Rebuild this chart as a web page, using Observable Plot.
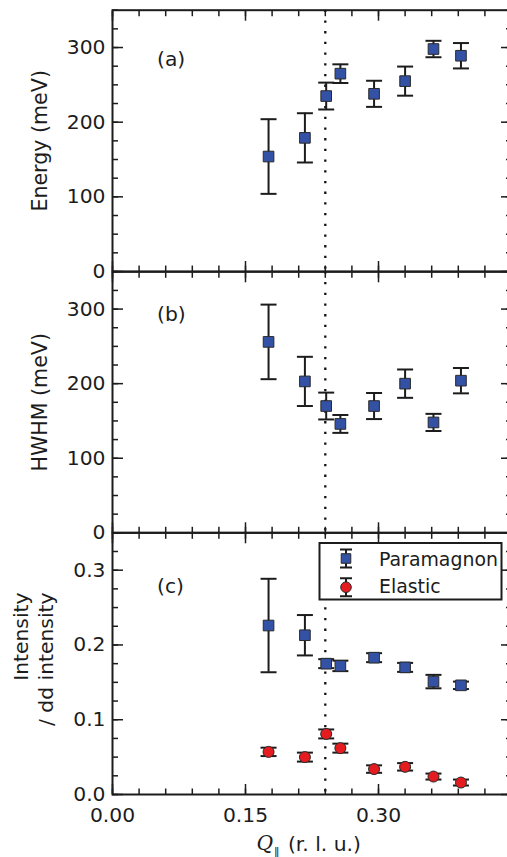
<!DOCTYPE html>
<html><head><meta charset="utf-8">
<script src="https://cdn.jsdelivr.net/npm/d3@7"></script>
<script src="https://cdn.jsdelivr.net/npm/@observablehq/plot@0.6"></script>
<style>
html,body{margin:0;padding:0;background:#fff;overflow:hidden;}
#chart{position:relative;width:507px;height:857px;overflow:hidden;}
#chart svg{position:absolute;left:0;top:0;}
</style></head><body><div id="chart"></div>
<script>
// ---- data ----
const q = [0.176, 0.217, 0.241, 0.257, 0.295, 0.330, 0.362, 0.393];
const energy = [154, 179, 235, 265, 238, 255, 298, 289];
const energyErr = [50, 33, 18, 12.5, 17.5, 19.5, 11, 17];
const hwhm = [256, 203, 170, 146, 170, 200, 148, 204];
const hwhmErr = [50, 33, 18, 12, 17.5, 19, 11.5, 17];
const paramagnon = [0.226, 0.213, 0.175, 0.172, 0.183, 0.170, 0.151, 0.146];
const paramagnonErr = [0.0625, 0.027, 0.006, 0.007, 0.006, 0.006, 0.009, 0.005];
const elastic = [0.057, 0.050, 0.081, 0.062, 0.034, 0.037, 0.024, 0.016];
const elasticErr = [0.0056, 0.006, 0.006, 0.006, 0.005, 0.005, 0.004, 0.004];
const qCritical = 0.24;
const xTickLabels = [0, 0.15, 0.30];
const xMajor = [0, 0.15, 0.30, 0.45];
const xMinor = [0, 0.03, 0.06, 0.09, 0.12, 0.15, 0.18, 0.21, 0.24, 0.27, 0.30, 0.33, 0.36, 0.39, 0.42, 0.45];
const meVMajor = [0, 100, 200, 300];
const meVMinor = [0, 25, 50, 75, 100, 125, 150, 175, 200, 225, 250, 275, 300, 325, 350];
const intMajor = [0, 0.1, 0.2, 0.3];
const intMinor = [0, 0.025, 0.05, 0.075, 0.1, 0.125, 0.15, 0.175, 0.2, 0.225, 0.25, 0.275, 0.3, 0.325, 0.35];
const panelLetters = ["(a)", "(b)", "(c)"];
const yLabels = ["Energy (meV)", "HWHM (meV)", "Intensity\n/ dd intensity"];
const legendLabels = ["Paramagnon", "Elastic"];
const xLabelParts = ["Q", "\u2225", "(r. l. u.)"];

const INK = "#1c1c1c";
const BLUE = "#3352a6";
const RED = "#e41b1f";
const H = 857, W = 507;

function capSymbol(hw) { return {draw(ctx) { ctx.moveTo(-hw, 0); ctx.lineTo(hw, 0); }}; }
function legendBar(hh, hw) {
  return {draw(ctx) {
    ctx.moveTo(0, -hh); ctx.lineTo(0, hh);
    ctx.moveTo(-hw, -hh); ctx.lineTo(hw, -hh);
    ctx.moveTo(-hw, hh); ctx.lineTo(hw, hh);
  }};
}

function makePanel({top, bottom, yDomain, yMajor, yMinor, yFormat, series, letter, letterDy, ylabelMark, extra = []}) {
  const tk = {stroke: INK, strokeWidth: 1.5, fill: "none", label: null};
  const marks = [
    Plot.ruleX([qCritical], {stroke: "#111", strokeWidth: 2.3, strokeDasharray: "2.3,8.4"})
  ];
  for (const s of series) {
    const rows = q.map((x, i) => ({q: x, v: s.values[i], e: s.errors[i]}));
    marks.push(
      Plot.ruleX(rows, {x: "q", y1: d => d.v - d.e, y2: d => d.v + d.e, stroke: INK, strokeWidth: 2}),
      Plot.dot(rows, {x: "q", y: d => d.v + d.e, symbol: capSymbol(8), fill: "none", stroke: INK, strokeWidth: 2}),
      Plot.dot(rows, {x: "q", y: d => d.v - d.e, symbol: capSymbol(8), fill: "none", stroke: INK, strokeWidth: 2}),
      Plot.dot(rows, {x: "q", y: "v", symbol: s.symbol, r: s.r, fill: s.color, stroke: "#2a2a2a", strokeWidth: 1})
    );
  }
  marks.push(
    Plot.axisX(xMinor, {...tk, anchor: "bottom", tickSize: -5.5}),
    Plot.axisX(xMajor, {...tk, anchor: "bottom", tickSize: -10}),
    Plot.axisX(xMinor, {...tk, anchor: "top", tickSize: -5.5}),
    Plot.axisX(xMajor, {...tk, anchor: "top", tickSize: -10}),
    Plot.axisY(yMinor, {...tk, anchor: "left", tickSize: -6}),
    Plot.axisY(yMajor, {...tk, anchor: "left", tickSize: -11}),
    Plot.axisY(yMinor, {...tk, anchor: "right", tickSize: -6}),
    Plot.axisY(yMajor, {...tk, anchor: "right", tickSize: -11}),
    Plot.axisY(yMajor, {anchor: "left", tickSize: 0, tickPadding: 7, tickFormat: yFormat, label: null, fill: INK, fontSize: 20.3}),
    Plot.frame({stroke: INK, strokeWidth: 2}),
    Plot.text([letter], {frameAnchor: "top-left", dx: 44.5, dy: letterDy, lineAnchor: "bottom", fontSize: 20.3, fill: INK}),
    ylabelMark,
    ...extra
  );
  return Plot.plot({
    width: W, height: H,
    marginLeft: 112, marginRight: -4, marginTop: top, marginBottom: H - bottom,
    x: {domain: [0, 0.45]},
    y: {domain: yDomain},
    style: {background: "transparent", fontFamily: "'DejaVu Sans', sans-serif", fontSize: "20px", color: INK},
    marks
  });
}

const chart = document.getElementById("chart");

chart.append(makePanel({
  top: 9.7, bottom: 271, yDomain: [0, 350], yMajor: meVMajor, yMinor: meVMinor, yFormat: d3.format("d"),
  series: [{values: energy, errors: energyErr, symbol: "square", r: 6, color: BLUE}],
  letter: panelLetters[0], letterDy: 55.7,
  ylabelMark: Plot.text([yLabels[0]], {frameAnchor: "left", rotate: -90, dx: -65.3, textAnchor: "middle", lineAnchor: "bottom", fontSize: 20.6, fill: INK})
}));

chart.append(makePanel({
  top: 271.3, bottom: 532.3, yDomain: [0, 350], yMajor: meVMajor, yMinor: meVMinor, yFormat: d3.format("d"),
  series: [{values: hwhm, errors: hwhmErr, symbol: "square", r: 6, color: BLUE}],
  letter: panelLetters[1], letterDy: 49.1,
  ylabelMark: Plot.text([yLabels[1]], {frameAnchor: "left", rotate: -90, dx: -65.3, textAnchor: "middle", lineAnchor: "bottom", fontSize: 20.6, fill: INK})
}));

chart.append(makePanel({
  top: 532.3, bottom: 794, yDomain: [0, 0.35], yMajor: intMajor, yMinor: intMinor, yFormat: d3.format(".1f"),
  series: [
    {values: paramagnon, errors: paramagnonErr, symbol: "square", r: 6, color: BLUE},
    {values: elastic, errors: elasticErr, symbol: "circle", r: 5.5, color: RED}
  ],
  letter: panelLetters[2], letterDy: 60.1,
  ylabelMark: Plot.text([yLabels[2]], {frameAnchor: "top-left", rotate: -90, dx: -59.7, dy: 59.7, textAnchor: "end", lineAnchor: "bottom", lineHeight: 1.2, fontSize: 20.3, fill: INK}),
  extra: [
    Plot.axisX(xTickLabels, {anchor: "bottom", tickSize: 0, tickPadding: 13, tickFormat: d3.format(".2f"), label: null, fill: INK, fontSize: 20.3}),
    Plot.text([xLabelParts[0]], {frameAnchor: "bottom-left", dx: 144, dy: 55.5, lineAnchor: "bottom", fontFamily: "'DejaVu Serif', serif", fontStyle: "italic", fontSize: 20.3, fill: INK}),
    Plot.text([xLabelParts[1]], {frameAnchor: "bottom-left", dx: 161, dy: 61, lineAnchor: "bottom", fontSize: 12, fill: INK}),
    Plot.text([xLabelParts[2]], {frameAnchor: "bottom-left", dx: 175.4, dy: 56.2, lineAnchor: "bottom", fontSize: 20.3, fill: INK}),
    // legend
    Plot.frame({insetLeft: 207, insetTop: 10.2, insetRight: 10, insetBottom: 195, fill: "white", stroke: INK, strokeWidth: 2}),
    Plot.dot([0], {x: null, y: null, frameAnchor: "top-left", dx: 233.5, dy: 25.7, symbol: legendBar(9, 6), fill: "none", stroke: INK, strokeWidth: 2}),
    Plot.dot([0], {x: null, y: null, frameAnchor: "top-left", dx: 233.5, dy: 25.7, symbol: "square", r: 5.4, fill: BLUE, stroke: "#2a2a2a", strokeWidth: 1}),
    Plot.dot([0], {x: null, y: null, frameAnchor: "top-left", dx: 233.5, dy: 54.4, symbol: legendBar(9, 6), fill: "none", stroke: INK, strokeWidth: 2}),
    Plot.dot([0], {x: null, y: null, frameAnchor: "top-left", dx: 233.5, dy: 54.4, symbol: "circle", r: 5.3, fill: RED, stroke: "#2a2a2a", strokeWidth: 1}),
    Plot.text([legendLabels[0]], {frameAnchor: "top-left", dx: 266.5, dy: 33.2, lineAnchor: "bottom", fontSize: 18.9, fill: INK}),
    Plot.text([legendLabels[1]], {frameAnchor: "top-left", dx: 266.5, dy: 59.7, lineAnchor: "bottom", fontSize: 18.9, fill: INK})
  ]
}));
</script></body></html>
